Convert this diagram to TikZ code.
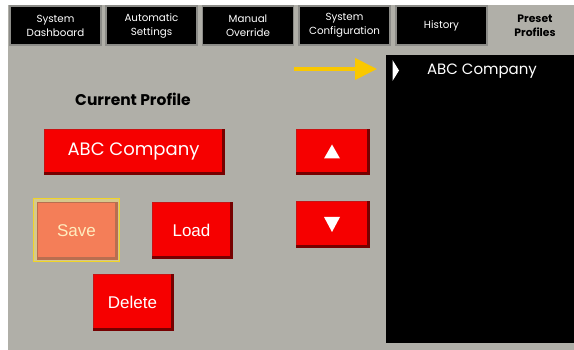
\documentclass[tikz,border=0pt]{standalone}
\usepackage{fontspec}
\setmainfont{Poppins}
\newfontfamily\arialfont{Liberation Sans}
\usetikzlibrary{
    arrows.meta,
    positioning
}

\definecolor{panelgray}{RGB}{176,175,168}
\definecolor{tabedge}{RGB}{140,140,136}
\definecolor{btnred}{RGB}{246,0,0}
\definecolor{btnedge}{RGB}{200,20,20}
\definecolor{btnshade}{RGB}{118,0,0}
\definecolor{saveorange}{RGB}{244,126,88}
\definecolor{saveshade}{RGB}{184,110,80}
\definecolor{savetext}{RGB}{255,236,190}
\definecolor{saveglow}{RGB}{214,200,140}
\definecolor{hiyellow}{RGB}{240,212,40}
\definecolor{arrowyellow}{RGB}{250,200,0}

\tikzset{
    tab/.style={fill=black, draw=tabedge, line width=1.5pt, text=white,
        minimum width=91pt, minimum height=39pt, inner sep=0pt, align=center,
        font=\fontsize{10.3}{14}\selectfont},
    redbtn/.style={fill=btnred, draw=btnedge, line width=1pt, text=white,
        inner sep=0pt, font=\arialfont\fontsize{17}{17}\selectfont},
    shadeline/.style={btnshade, line width=2.5pt}
}

\begin{document}
\begin{tikzpicture}[x=1pt, y=-1pt]
\useasboundingbox (0,0) rectangle (574,350);
\fill[white] (0,0) rectangle (574,350);
\fill[panelgray] (8,5) rectangle (574,350);

% tabs
\foreach \x/\name/\txt in {55.5/dash/{System\\Dashboard}, 151.5/auto/{Automatic\\Settings},
    248/manual/{Manual\\Override}, 344.5/config/{System\\Configuration},
    441.5/history/{History}}
    \node[tab] (\name) at (\x, 25.5) {\txt};
\node[align=center, font=\bfseries\fontsize{10.8}{14}\selectfont] (preset) at (535, 25.5) {Preset\\Profiles};

% left side
\node[font=\bfseries\fontsize{15.5}{16}\selectfont] (current) at (133, 99) {Current Profile};
\node[redbtn, minimum width=179pt, minimum height=43pt,
    font=\fontsize{18}{18}\selectfont] (abc) at (133.5, 151.5) {ABC Company};

\node[fill=saveglow, draw=hiyellow, line width=1.5pt, minimum width=86pt,
    minimum height=63pt] (savering) at (76.5, 230) {};
\node[redbtn, fill=saveorange, draw=saveshade, text=savetext,
    minimum width=79pt, minimum height=55pt] (save) at (76.5, 230.5) {Save};
\node[redbtn, minimum width=79pt, minimum height=54pt] (load) at (191.5, 230) {Load};
\node[redbtn, minimum width=79pt, minimum height=54pt] (delete) at (132.5, 302) {Delete};

\node[redbtn, minimum width=72pt, minimum height=43pt] (up) at (332, 151.5) {};
\node[redbtn, minimum width=72pt, minimum height=44pt] (down) at (332, 224) {};

\draw[saveshade, line width=2.5pt] (save.north east) -- (save.south east) -- (save.south west);
\foreach \b in {abc, load, delete, up, down}
    \draw[shadeline] (\b.north east) -- (\b.south east) -- (\b.south west);

\fill[white] ([shift={(-8pt,-7pt)}]up.center) -- ([shift={(8pt,-7pt)}]up.center)
    -- ([shift={(0pt,7pt)}]up.center) -- cycle;
\fill[white] ([shift={(-8pt,7pt)}]down.center) -- ([shift={(8pt,7pt)}]down.center)
    -- ([shift={(0pt,-8pt)}]down.center) -- cycle;

% profile list
\fill[black] (386,55) rectangle (574,343);
\coordinate (list) at (386,55);
\fill[white] (392.5,60) -- (399,70.5) -- (392.5,81) -- cycle;
\node[text=white, font=\fontsize{15}{15}\selectfont] (item) at (482, 71.5) {ABC Company};

\coordinate (arrowtail) at (294,69);
\coordinate (arrowtip) at (377,69);
\draw[arrowyellow, line width=4pt, -{Triangle[length=22pt, width=21pt]}] (arrowtail) -- (arrowtip);
\end{tikzpicture}
\end{document}
